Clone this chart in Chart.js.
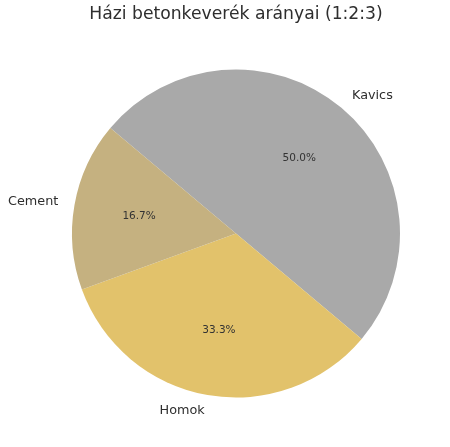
<!DOCTYPE html>
<html><head><meta charset="utf-8">
<script src="https://cdn.jsdelivr.net/npm/chart.js@4"></script>
<style>html,body{margin:0;padding:0;background:#fff}#wrap{width:450px;height:447px;position:relative}</style>
</head><body><div id="wrap"><canvas id="c" width="450" height="447"></canvas></div>
<script>
const titleText = 'Házi betonkeverék arányai (1:2:3)';
const categories = ['Cement', 'Homok', 'Kavics'];
const values = [1, 2, 3];
const colors = ['#c5b180', '#e2c26b', '#a9a9a9'];

// Chart.js draws clockwise; reverse to mimic counter-clockwise order
const dLabels = categories.slice().reverse();
const dValues = values.slice().reverse();
const dColors = colors.slice().reverse();

const labelPlugin = {
  id: 'pieLabels',
  afterDatasetsDraw(chart) {
    const ctx = chart.ctx;
    const meta = chart.getDatasetMeta(0);
    const total = dValues.reduce((a, b) => a + b, 0);
    ctx.save();
    meta.data.forEach((arc, i) => {
      const p = arc.getProps(['x', 'y', 'startAngle', 'endAngle', 'outerRadius'], true);
      const mid = (p.startAngle + p.endAngle) / 2;
      const cx = Math.cos(mid), cy = Math.sin(mid);
      ctx.font = '12.8px "DejaVu Sans"';
      ctx.fillStyle = '#2e2e2e';
      ctx.textBaseline = 'middle';
      ctx.textAlign = cx < 0 ? 'right' : 'left';
      ctx.fillText(dLabels[i], p.x + 1.1 * p.outerRadius * cx, p.y + 1.1 * p.outerRadius * cy);
      ctx.font = '10.5px "DejaVu Sans"';
      ctx.textAlign = 'center';
      ctx.fillStyle = '#333333';
      const pct = (dValues[i] / total * 100).toFixed(1) + '%';
      ctx.fillText(pct, p.x + 0.6 * p.outerRadius * cx, p.y + 0.6 * p.outerRadius * cy);
    });
    ctx.font = '17.2px "DejaVu Sans"';
    ctx.fillStyle = '#2e2e2e';
    ctx.textAlign = 'center';
    ctx.textBaseline = 'middle';
    ctx.fillText(titleText, 236, 15);
    ctx.restore();
  }
};

new Chart(document.getElementById('c'), {
  type: 'pie',
  data: {
    labels: dLabels,
    datasets: [{ data: dValues, backgroundColor: dColors, borderWidth: 0 }]
  },
  options: {
    responsive: false,
    animation: false,
    rotation: -50,
    layout: { padding: { left: 72, right: 50, top: 69.5, bottom: 49.5 } },
    plugins: { legend: { display: false }, title: { display: false }, tooltip: { enabled: false } }
  },
  plugins: [labelPlugin]
});
</script>
</body></html>
